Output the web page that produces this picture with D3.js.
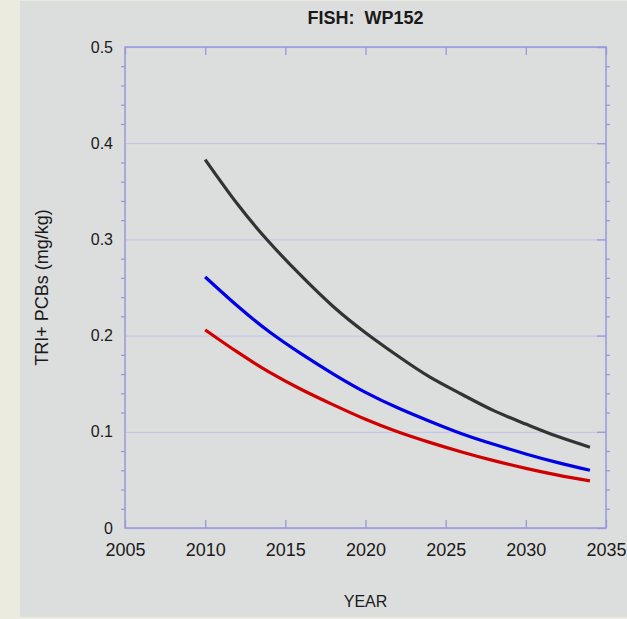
<!DOCTYPE html>
<html>
<head>
<meta charset="utf-8">
<script src="https://cdn.jsdelivr.net/npm/d3@7"></script>
<style>
	body { margin: 0; background: #ecebe0; }
	text { font-family: "Liberation Sans", Arial, sans-serif; fill: #1a1a1a; }
</style>
</head>
<body>
<div id="chart"></div>
<script>
// data
let years = [2010, 2012, 2014, 2016, 2018, 2020, 2022, 2024, 2026, 2028, 2030, 2032, 2034];
let blackSeries = [0.383, 0.337, 0.297, 0.262, 0.230, 0.203, 0.179, 0.157, 0.139, 0.122, 0.108, 0.095, 0.084];
let blueSeries = [0.261, 0.231, 0.204, 0.181, 0.160, 0.141, 0.125, 0.111, 0.098, 0.087, 0.077, 0.068, 0.060];
let redSeries = [0.206, 0.183, 0.162, 0.144, 0.128, 0.113, 0.100, 0.089, 0.079, 0.070, 0.062, 0.055, 0.049];
let xTicks = [2005, 2010, 2015, 2020, 2025, 2030, 2035];
let yTicks = [0, 0.1, 0.2, 0.3, 0.4, 0.5];
let yMinor = [0.02, 0.04, 0.06, 0.08, 0.12, 0.14, 0.16, 0.18, 0.22, 0.24, 0.26, 0.28,
	0.32, 0.34, 0.36, 0.38, 0.42, 0.44, 0.46, 0.48];

let W = 627, H = 619;
let margin = { top: 47, right: 21, bottom: 91, left: 125 },
	w = W - margin.left - margin.right,
	h = H - margin.top - margin.bottom;

let axisCol = "#9898dc", gridCol = "#c6c6ea";

let root = d3.select("#chart").append("svg")
	.attr("width", W)
	.attr("height", H);

// panel background
root.append("rect").attr("width", W).attr("height", H).attr("fill", "#ecebe0");
root.append("rect").attr("x", 20).attr("y", 1).attr("width", W - 20).attr("height", 616).attr("fill", "#dcdedd");

let svg = root.append("g")
	.attr("transform", "translate(" + margin.left + "," + margin.top + ")");

let x = d3.scaleLinear().domain([2005, 2035]).range([0, w]);
let y = d3.scaleLinear().domain([0, 0.5]).range([h, 0]);

function styleTicks(g, col) {
	g.select(".domain").remove();
	g.selectAll("line").attr("stroke", col).attr("stroke-width", 1.3);
}

// horizontal grid lines
svg.append("g")
	.call(d3.axisLeft(y).tickValues(yTicks).tickSize(-w).tickFormat(""))
	.call(g => styleTicks(g, gridCol));

// minor ticks, outside left and right
svg.append("g")
	.call(d3.axisLeft(y).tickValues(yMinor).tickSize(4).tickFormat(""))
	.call(g => styleTicks(g, axisCol));
svg.append("g")
	.attr("transform", "translate(" + w + ",0)")
	.call(d3.axisRight(y).tickValues(yMinor).tickSize(4).tickFormat(""))
	.call(g => styleTicks(g, axisCol));

// major ticks, inside
svg.append("g")
	.attr("transform", "translate(" + w + ",0)")
	.call(d3.axisRight(y).tickValues(yTicks).tickSize(-9).tickFormat(""))
	.call(g => styleTicks(g, axisCol));
svg.append("g")
	.call(d3.axisTop(x).tickValues(xTicks).tickSize(-8).tickFormat(""))
	.call(g => styleTicks(g, axisCol));

// y labels
svg.append("g")
	.call(d3.axisLeft(y).tickValues(yTicks).tickSize(0).tickPadding(12)
		.tickFormat(d => d === 0 ? "0" : d3.format(".1f")(d)))
	.call(g => styleTicks(g, axisCol))
	.selectAll("text").style("font-size", "16px").attr("fill", "#1a1a1a");

// x axis
svg.append("g")
	.attr("transform", "translate(0," + h + ")")
	.call(d3.axisBottom(x).tickValues(xTicks).tickSize(-8).tickPadding(15).tickFormat(d3.format("d")))
	.call(g => styleTicks(g, axisCol))
	.selectAll("text").style("font-size", "18px").attr("fill", "#1a1a1a");

// frame
svg.append("rect")
	.attr("width", w).attr("height", h)
	.attr("fill", "none").attr("stroke", axisCol).attr("stroke-width", 1.5);

// curves
let line = d3.line()
	.x((d, i) => x(years[i]))
	.y(d => y(d))
	.curve(d3.curveNatural);

[[blackSeries, "#333333"], [blueSeries, "#0000e6"], [redSeries, "#d00000"]].forEach(function (s) {
	svg.append("path")
		.datum(s[0])
		.attr("fill", "none")
		.attr("stroke", s[1])
		.attr("stroke-width", 3.2)
		.attr("d", line);
});

// titles
root.append("text")
	.attr("x", margin.left + w / 2).attr("y", 24)
	.attr("text-anchor", "middle")
	.style("font-size", "18px").style("font-weight", "bold")
	.text("FISH:\u00a0\u00a0WP152");

root.append("text")
	.attr("x", margin.left + w / 2).attr("y", 607)
	.attr("text-anchor", "middle")
	.style("font-size", "16px")
	.text("YEAR");

root.append("text")
	.attr("transform", "translate(42," + (margin.top + h / 2) + ") rotate(-90)")
	.attr("text-anchor", "middle")
	.attr("dy", "0.35em")
	.style("font-size", "18px")
	.text("TRI+ PCBs (mg/kg)");
</script>
</body>
</html>
